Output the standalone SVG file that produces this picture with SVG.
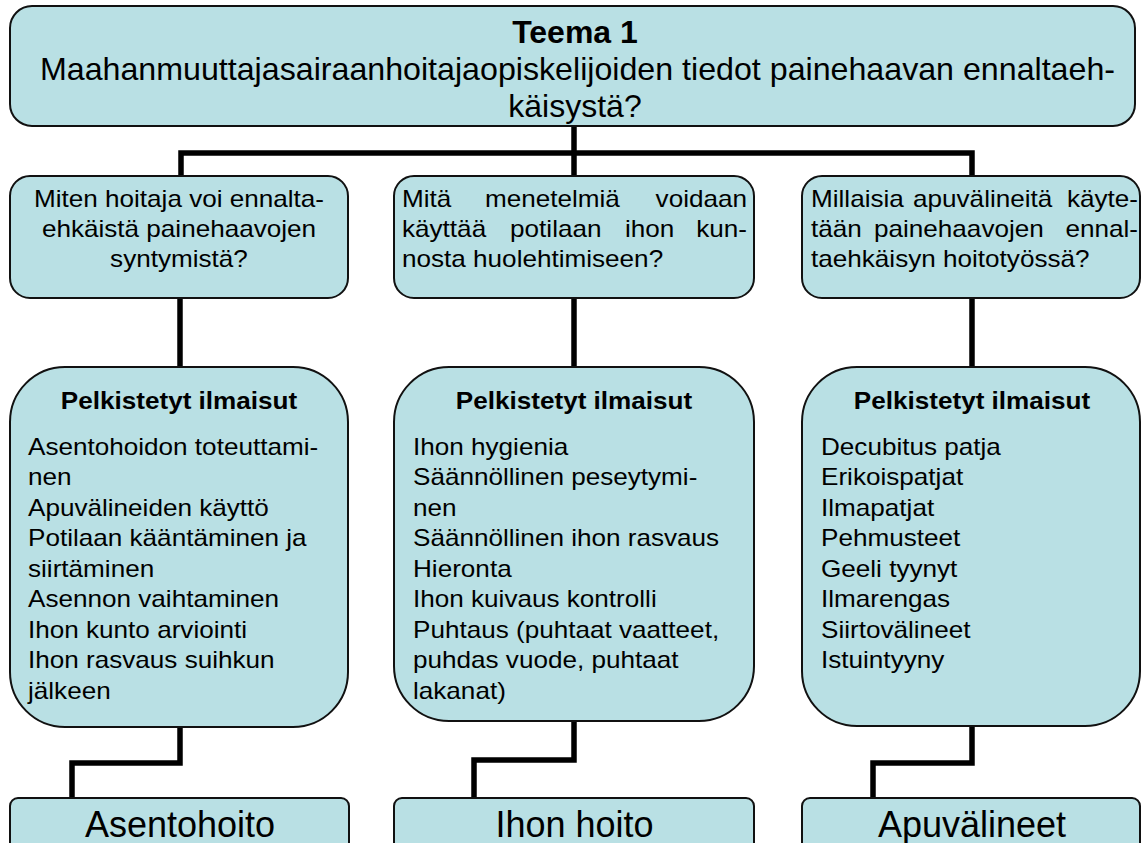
<svg xmlns="http://www.w3.org/2000/svg" width="1141" height="843" viewBox="0 0 1141 843">
<style>
.box{fill:#b9e0e4;stroke:#111;stroke-width:2}
.con{fill:none;stroke:#000;stroke-width:5.5;stroke-linejoin:miter}
text{font-family:"Liberation Sans",Arial,sans-serif;fill:#000}
.t32{font-size:32px}
.q{font-size:23px}
.h{font-size:23px;font-weight:bold}
.b{font-size:36px}
.mid{text-anchor:middle}
.end{text-anchor:end}
</style>
<rect x="0" y="0" width="1141" height="843" fill="#fff"/>
<g id="connectors">
<path class="con" d="M574,126 V176"/>
<path class="con" d="M181,176 V153 H972 V176"/>
<path class="con" d="M180,298 V367"/>
<path class="con" d="M574,298 V367"/>
<path class="con" d="M972,298 V367"/>
<path class="con" d="M180,727 V763 H72 V798"/>
<path class="con" d="M574,721 V760 H474 V798"/>
<path class="con" d="M972,726 V763 H873 V798"/>
</g>
<g id="teema">
<rect class="box" x="10" y="6" width="1125" height="120" rx="22"/>
<text class="t32 mid" x="575" y="43" font-weight="bold">Teema 1</text>
<text class="t32" x="40" y="80" textLength="1075" lengthAdjust="spacingAndGlyphs">Maahanmuuttajasairaanhoitajaopiskelijoiden tiedot painehaavan ennaltaeh-</text>
<text class="t32 mid" x="575" y="117">käisystä?</text>
</g>
<g id="q1">
<rect class="box" x="10" y="176" width="338" height="122" rx="20"/>
<g transform="translate(179,0) scale(1.135,1)">
<text class="q mid" x="0" y="207">Miten hoitaja voi ennalta-</text>
<text class="q mid" x="0" y="237">ehkäistä painehaavojen</text>
<text class="q mid" x="0" y="267">syntymistä?</text>
</g>
</g>
<g id="q2">
<rect class="box" x="394" y="176" width="360" height="122" rx="20"/>
<g transform="translate(402,0) scale(1.135,1)">
<text class="q" x="0" y="207">Mitä</text>
<text class="q" x="73.1" y="207">menetelmiä</text>
<text class="q end" x="304" y="207">voidaan</text>
<text class="q" x="0" y="237">käyttää</text>
<text class="q" x="95.2" y="237">potilaan</text>
<text class="q" x="196.5" y="237">ihon</text>
<text class="q end" x="304" y="237">kun-</text>
<text class="q" x="0" y="267">nosta huolehtimiseen?</text>
</g>
</g>
<g id="q3">
<rect class="box" x="802" y="176" width="338" height="122" rx="20"/>
<g transform="translate(811,0) scale(1.135,1)">
<text class="q" x="0" y="207">Millaisia</text>
<text class="q" x="89.9" y="207">apuvälineitä</text>
<text class="q end" x="288.1" y="207">käyte-</text>
<text class="q" x="0" y="237">tään</text>
<text class="q" x="55.5" y="237">painehaavojen</text>
<text class="q end" x="288.1" y="237">ennal-</text>
<text class="q" x="0" y="267">taehkäisyn hoitotyössä?</text>
</g>
</g>
<g id="p1">
<rect class="box" x="10" y="367" width="338" height="360" rx="55"/>
<g transform="translate(179,0) scale(1.135,1)">
<text class="h mid" x="0" y="409">Pelkistetyt ilmaisut</text>
</g>
<g transform="translate(28,0) scale(1.135,1)">
<text class="q" x="0" y="455">Asentohoidon toteuttami-</text>
<text class="q" x="0" y="485.5">nen</text>
<text class="q" x="0" y="516">Apuvälineiden käyttö</text>
<text class="q" x="0" y="546.5">Potilaan kääntäminen ja</text>
<text class="q" x="0" y="577">siirtäminen</text>
<text class="q" x="0" y="607.5">Asennon vaihtaminen</text>
<text class="q" x="0" y="638">Ihon kunto arviointi</text>
<text class="q" x="0" y="668.5">Ihon rasvaus suihkun</text>
<text class="q" x="0" y="699">jälkeen</text>
</g>
</g>
<g id="p2">
<rect class="box" x="394" y="367" width="360" height="354" rx="55"/>
<g transform="translate(574,0) scale(1.135,1)">
<text class="h mid" x="0" y="409">Pelkistetyt ilmaisut</text>
</g>
<g transform="translate(413,0) scale(1.135,1)">
<text class="q" x="0" y="455">Ihon hygienia</text>
<text class="q" x="0" y="485.5">Säännöllinen peseytymi-</text>
<text class="q" x="0" y="516">nen</text>
<text class="q" x="0" y="546.5">Säännöllinen ihon rasvaus</text>
<text class="q" x="0" y="577">Hieronta</text>
<text class="q" x="0" y="607.5">Ihon kuivaus kontrolli</text>
<text class="q" x="0" y="638">Puhtaus (puhtaat vaatteet,</text>
<text class="q" x="0" y="668.5">puhdas vuode, puhtaat</text>
<text class="q" x="0" y="699">lakanat)</text>
</g>
</g>
<g id="p3">
<rect class="box" x="802" y="367" width="338" height="359" rx="55"/>
<g transform="translate(972,0) scale(1.135,1)">
<text class="h mid" x="0" y="409">Pelkistetyt ilmaisut</text>
</g>
<g transform="translate(821,0) scale(1.135,1)">
<text class="q" x="0" y="455">Decubitus patja</text>
<text class="q" x="0" y="485.5">Erikoispatjat</text>
<text class="q" x="0" y="516">Ilmapatjat</text>
<text class="q" x="0" y="546.5">Pehmusteet</text>
<text class="q" x="0" y="577">Geeli tyynyt</text>
<text class="q" x="0" y="607.5">Ilmarengas</text>
<text class="q" x="0" y="638">Siirtovälineet</text>
<text class="q" x="0" y="668.5">Istuintyyny</text>
</g>
</g>
<g id="c1">
<rect class="box" x="10" y="798" width="339" height="60" rx="8"/>
<text class="b mid" x="180" y="837">Asentohoito</text>
</g>
<g id="c2">
<rect class="box" x="394" y="798" width="360" height="60" rx="8"/>
<text class="b mid" x="574.5" y="837">Ihon hoito</text>
</g>
<g id="c3">
<rect class="box" x="802" y="798" width="338" height="60" rx="8"/>
<text class="b mid" x="972" y="837">Apuvälineet</text>
</g>
</svg>
